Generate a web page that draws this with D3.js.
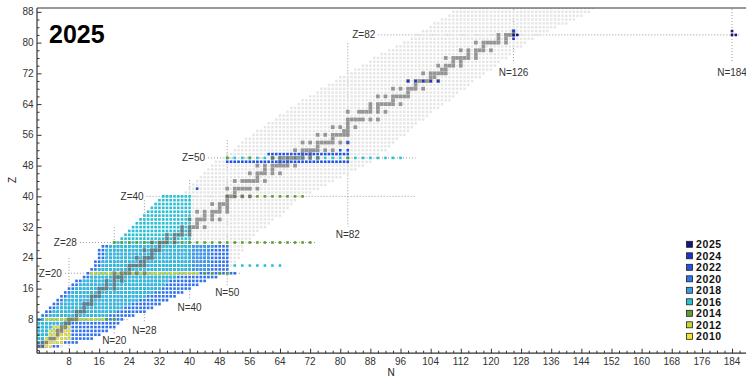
<!DOCTYPE html>
<html><head><meta charset="utf-8">
<script src="https://cdn.jsdelivr.net/npm/d3@7"></script>
<style>
html,body{margin:0;padding:0;background:#fff;}
svg{display:block;font-family:"Liberation Sans",Arial,Helvetica,sans-serif;}
</style></head><body>
<svg id="chart" width="746" height="377"></svg>
<script>
// Legend years (top to bottom) and their colours
const years = ["2025","2024","2022","2020","2018","2016","2014","2012","2010"];
const yearColors = ["#15157c","#1c34c6","#2153e6","#2f73ee","#3c9be3","#2bc1d5","#5e9f2f","#c5d72e","#f3e52b"];

// Known nuclides, one row per element: [Z, Nmin, Nmax]
const known = [
 [1,0,6],[2,0,10],[3,0,14],[4,0,16],[5,0,18],[6,0,20],[7,0,21],[8,0,22],[9,1,25],[10,2,28],
 [11,3,30],[12,4,32],[13,5,34],[14,6,36],[15,7,38],[16,8,40],[17,9,42],[18,10,44],[19,12,47],[20,13,52],
 [21,14,50],[22,15,52],[23,15,52],[24,16,53],[25,16,53],[26,16,54],[27,17,54],[28,20,55],[29,22,56],[30,23,57],
 [31,24,58],[32,25,60],[33,26,61],[34,27,62],[35,28,64],[36,29,65],[37,30,66],[38,31,67],[39,32,68],[40,33,70],
 [41,39,72],[42,40,74],[43,41,76],[44,42,78],[45,43,80],[46,44,82],[47,45,84],[48,46,86],[49,47,88],[50,49,89],
 [51,50,90],[52,52,92],[53,53,93],[54,54,94],[55,55,95],[56,57,97],[57,58,98],[58,60,99],[59,61,100],[60,63,102],
 [61,64,103],[62,66,104],[63,67,106],[64,69,107],[65,70,109],[66,72,110],[67,74,111],[68,75,113],[69,77,114],[70,79,115],
 [71,80,117],[72,82,118],[73,84,120],[74,86,121],[75,88,122],[76,89,124],[77,91,125],[78,93,126],[79,95,128],[80,97,129],
 [81,99,131],[82,100,133],[83,102,135],[84,104,137],[85,105,140],[86,107,142],[87,109,144],[88,110,146],[89,112,147]
];

// Stable nuclides: [Z, [N, ...]]
const stable = [
 [1,[0,1]],[2,[1,2]],[3,[3,4]],[4,[5]],[5,[5,6]],[6,[6,7]],[7,[7,8]],[8,[8,9,10]],[9,[10]],[10,[10,11,12]],
 [11,[12]],[12,[12,13,14]],[13,[14]],[14,[14,15,16]],[15,[16]],[16,[16,17,18,20]],[17,[18,20]],[18,[18,20,22]],[19,[20,21,22]],[20,[20,22,23,24,26,28]],
 [21,[24]],[22,[24,25,26,27,28]],[23,[27,28]],[24,[26,28,29,30]],[25,[30]],[26,[28,30,31,32]],[27,[32]],[28,[30,32,33,34,36]],[29,[34,36]],[30,[34,36,37,38,40]],
 [31,[38,40]],[32,[38,40,41,42,44]],[33,[42]],[34,[40,42,43,44,46,48]],[35,[44,46]],[36,[42,44,46,47,48,50]],[37,[48,50]],[38,[46,48,49,50]],[39,[50]],[40,[50,51,52,54,56]],
 [41,[52]],[42,[50,52,53,54,55,56,58]],[44,[52,54,55,56,57,58,60]],[45,[58]],[46,[56,58,59,60,62,64]],[47,[60,62]],[48,[58,60,62,63,64,65,66,68]],[49,[64,66]],[50,[62,64,65,66,67,68,69,70,72,74]],
 [51,[70,72]],[52,[68,70,71,72,73,74,76,78]],[53,[74]],[54,[70,72,74,75,76,77,78,80,82]],[55,[78]],[56,[74,76,78,79,80,81,82]],[57,[81,82]],[58,[78,80,82,84]],[59,[82]],[60,[82,83,84,85,86,88,90]],
 [62,[82,85,86,87,88,90,92]],[63,[88,90]],[64,[88,90,91,92,93,94,96]],[65,[94]],[66,[90,92,94,95,96,97,98]],[67,[98]],[68,[94,96,98,99,100,102]],[69,[100]],[70,[98,100,101,102,103,104,106]],
 [71,[104,105]],[72,[102,104,105,106,107,108]],[73,[107,108]],[74,[106,108,109,110,112]],[75,[110,112]],[76,[108,110,111,112,113,114,116]],[77,[114,116]],[78,[112,114,116,117,118,120]],[79,[118]],[80,[116,118,119,120,121,122,124]],
 [81,[122,124]],[82,[122,124,125,126]],[83,[126]]
];

// Computed nuclides per year: [Z, Nfirst, Nlast, step]
const cells2025 = [[82,126,127],[82,184,185],[83,184,184]];
const cells2024 = [[81,126,126],[83,126,126],[70,98,106,2]];
const cells2022 = [[49,50,82],[51,61,82],[52,80,80],[52,82,82],[54,82,82],[42,42,42]];
const cells2020 = [
 [1,0,5],[2,0,10],[3,0,14],[4,0,16],[5,0,18],[6,0,20],[7,0,21],[8,0,22],[9,1,25],[10,2,28],
 [11,3,30],[12,4,32],[13,5,34],[14,6,36],[15,7,38],[16,8,40],[17,9,42],[18,10,44],[19,12,47],[20,13,52],
 [21,14,50],[22,15,50],[23,15,50],[24,16,50],[25,16,50],[26,16,50],[27,17,50]
];
const cells2018 = [[21,41,45],[22,41,45],[23,41,45],[24,41,45],[25,41,45],[26,41,45],[27,41,46]];
const cells2016 = [
 [2,0,1],[3,0,3],[4,0,3],[5,0,4],[6,0,5],[7,0,8],[8,0,16],[9,3,18],[10,4,20],
 [11,5,22],[12,6,24],[13,7,26],[14,8,28],[15,9,30],[16,10,32],[17,11,33],[18,12,34],[19,14,36],[20,15,38],
 [21,16,40],[22,17,40],[23,17,40],[24,18,40],[25,18,40],[26,18,40],[27,19,40],[28,20,40],[29,22,40],[30,23,40],
 [31,24,40],[32,25,40],[33,26,40],[34,27,40],[35,28,40],[36,29,40],[37,30,40],[38,31,40],[39,32,40],[40,33,40],
 [22,52,64,2],[50,50,96,2]
];
const cells2014 = [[8,18,20,2],[20,44,50,2],[28,20,72,2],[40,50,70,2],[50,50,50],[50,56,56],[50,62,62],[50,82,82]];
const cells2012 = [[8,2,17],[20,14,42]];
const cells2010 = [[1,2,3],[2,2,6],[3,2,8],[4,3,8],[5,3,8],[6,4,8]];

// Magic-number guide lines
// vertical: [N, Ztop, Zbottom, label Z (or null)]
const magicN = [[8,24,-0.6,null],[20,32,4.4,2.4],[28,39,7.3,5.2],[40,44.2,13.3,11.2],[50,54.6,16.9,14.9],[82,79.8,32.1,30.2],[126,89.5,74.7,72.1],[184,89.5,74.7,72.1]];
// horizontal: [Z, Nstart, Nend, labelled]
const magicZ = [[8,-0.6,24,false],[20,6.9,53.5,true],[28,10.9,73.6,true],[40,28.6,100,true],[50,44.9,100,true],[82,90.1,186,true]];

// Axis ticks
const xMajor = d3.range(8, 185, 8);
const yMajor = d3.range(8, 89, 8);

const svg = d3.select("#chart");
const x = d3.scaleLinear().domain([-0.5, 188]).range([37, 747.1]);
const y = d3.scaleLinear().domain([-0.8, 89]).range([353.2, 8]);
const cw = x(1) - x(0), ch = y(0) - y(1);
const sq = 2.6;

svg.append("defs").append("clipPath").attr("id", "plotClip")
  .append("rect").attr("x", 37).attr("y", 8).attr("width", 709).attr("height", 345.2);
const plot = svg.append("g").attr("clip-path", "url(#plotClip)");

function expand(rows) {
  const out = [];
  rows.forEach(([z, a, b, s]) => d3.range(a, b + 1, s || 1).forEach(n => out.push({z, n})));
  return out;
}
function drawCells(g, cells, color, size) {
  g.selectAll(null).data(cells).join("rect")
    .attr("x", d => x(d.n) - size / 2).attr("y", d => y(d.z) - size / 2)
    .attr("width", size).attr("height", size).attr("fill", color);
}

// guide lines
const guides = plot.append("g").attr("stroke", "#9a9a9a").attr("stroke-width", 1).attr("stroke-dasharray", "1,2");
magicN.forEach(([n, z0, z1]) => guides.append("line").attr("x1", x(n)).attr("x2", x(n)).attr("y1", y(z0)).attr("y2", y(z1)));
magicZ.forEach(([z, n0, n1]) => guides.append("line").attr("x1", x(n0)).attr("x2", x(n1)).attr("y1", y(z)).attr("y2", y(z)));

// known nuclides
const knownCells = [];
known.forEach(([z, a, b]) => d3.range(a, b + 1).forEach(n => knownCells.push({z, n})));
drawCells(plot.append("g"), knownCells, "#e5e5e5", 2.4);

const layers = {"2025": cells2025, "2024": cells2024, "2022": cells2022, "2020": cells2020,
  "2018": cells2018, "2016": cells2016, "2014": cells2014, "2012": cells2012, "2010": cells2010};
const colorOf = d3.scaleOrdinal().domain(years).range(yearColors);

// older computations drawn over newer ones, below the stable nuclides
["2020", "2018", "2016", "2014", "2012", "2010"].forEach(yr => drawCells(plot.append("g"), expand(layers[yr]), colorOf(yr), sq));

// stable nuclides
const stableCells = [];
stable.forEach(([z, ns]) => ns.forEach(n => stableCells.push({z, n})));
plot.append("g").attr("opacity", 0.62).selectAll(null).data(stableCells).join("rect")
  .attr("x", d => x(d.n) - cw / 2).attr("y", d => y(d.z) - ch / 2)
  .attr("width", cw).attr("height", ch).attr("fill", "#606060");

["2022", "2024", "2025"].forEach(yr => drawCells(plot.append("g"), expand(layers[yr]), colorOf(yr), sq));

// guide labels
const lab = svg.append("g").attr("font-size", 10).attr("fill", "#333");
magicN.filter(d => d[3] !== null).forEach(([n, , , lz]) =>
  lab.append("text").attr("x", x(n)).attr("y", y(lz)).attr("dy", "0.35em").attr("text-anchor", "middle").text("N=" + n));
magicZ.filter(d => d[3]).forEach(([z, n0]) =>
  lab.append("text").attr("x", x(n0) - 3).attr("y", y(z)).attr("dy", "0.35em").attr("text-anchor", "end").text("Z=" + z));

// axes
const axes = svg.append("g").attr("stroke", "#333").attr("stroke-width", 1.2).attr("fill", "none");
axes.append("line").attr("x1", 37).attr("x2", 746).attr("y1", 8).attr("y2", 8);
axes.append("line").attr("x1", 37).attr("x2", 746).attr("y1", 353.2).attr("y2", 353.2);
axes.append("line").attr("x1", 37).attr("x2", 37).attr("y1", 8).attr("y2", 353.2);

const xAxis = d3.axisBottom(x).tickValues(d3.range(0, 188, 2)).tickSize(0).tickFormat("");
const gx = svg.append("g").attr("transform", "translate(0,353.2)").call(xAxis);
gx.select(".domain").remove();
gx.selectAll(".tick line").attr("y2", v => xMajor.includes(v) ? -4.5 : -2.5).attr("stroke", "#333");
const gxl = svg.append("g").attr("font-size", 10).attr("fill", "#333").attr("text-anchor", "middle");
xMajor.forEach(v => gxl.append("text").attr("x", x(v)).attr("y", 364.5).text(v));

const yAxis = d3.axisLeft(y).tickValues(d3.range(0, 89, 2)).tickSize(0).tickFormat("");
const gy = svg.append("g").attr("transform", "translate(37,0)").call(yAxis);
gy.select(".domain").remove();
gy.selectAll(".tick line").attr("x2", v => yMajor.includes(v) ? 4.5 : 2.5).attr("stroke", "#333");
const gyl = svg.append("g").attr("font-size", 10).attr("fill", "#333").attr("text-anchor", "end");
yMajor.forEach(v => gyl.append("text").attr("x", 33.5).attr("y", y(v)).attr("dy", "0.35em").text(v));

svg.append("text").attr("x", 391).attr("y", 376).attr("text-anchor", "middle").attr("font-size", 10).attr("fill", "#222").text("N");
svg.append("text").attr("transform", "translate(16,180) rotate(-90)").attr("text-anchor", "middle").attr("font-size", 10).attr("fill", "#222").text("Z");

svg.append("text").attr("x", 49).attr("y", 42.7).attr("font-size", 25).attr("font-weight", "bold").attr("fill", "#000").text("2025");

// legend
const leg = svg.append("g");
years.forEach((yr, i) => {
  const cy = 244.3 + i * 11.5;
  leg.append("rect").attr("x", 686.5).attr("y", cy - 3).attr("width", 6).attr("height", 6)
    .attr("fill", colorOf(yr)).attr("stroke", "#222").attr("stroke-width", 0.8);
  leg.append("text").attr("x", 696).attr("y", cy).attr("dy", "0.36em").attr("font-size", 10.5)
    .attr("letter-spacing", 0.6).attr("font-weight", "bold").attr("fill", "#111").text(yr);
});
</script>
</body></html>
